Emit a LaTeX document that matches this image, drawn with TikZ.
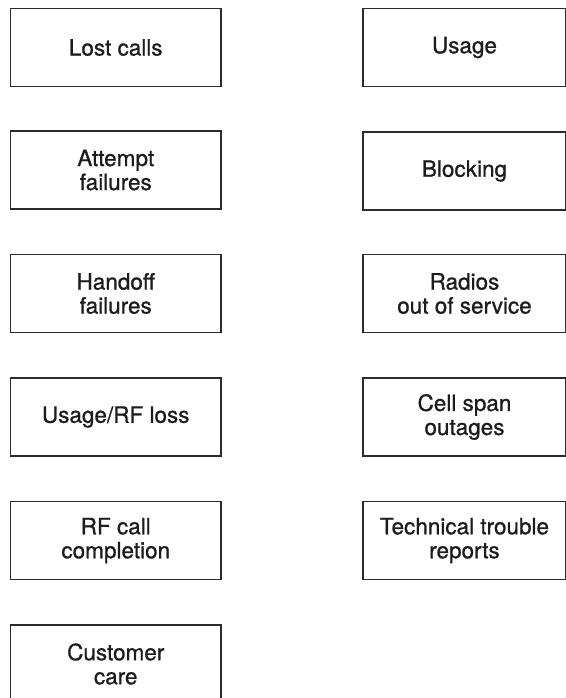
\documentclass[tikz,border=0pt]{standalone}
\usepackage{fontspec}
\setmainfont{TeX Gyre Heros}
% slightly heavier face for the box labels
\newfontface\labelface{TeX Gyre Heros}[FakeBold=0.9]
\definecolor{inkline}{HTML}{2B2B2B}
\definecolor{inktext}{HTML}{1C1C1C}
\begin{document}
\begin{tikzpicture}[x=1pt,y=-1pt,
  metric/.style={draw=inkline, line width=1.7pt, rectangle, inner sep=0pt,
    minimum height=78pt, align=center, text=inktext,
    font=\labelface\fontsize{22.5}{24}\selectfont},
  leftbox/.style={metric, minimum width=210.5pt},
  rightbox/.style={metric, minimum width=203pt}]
\useasboundingbox (0,0) rectangle (565,698);
% left column
\node[leftbox] (lost)     at (115.75, 47.5)  {Lost calls};
\node[leftbox] (attempt)  at (115.75, 170)   {Attempt\\failures};
\node[leftbox] (handoff)  at (115.75, 293.5) {Handoff\\failures};
\node[leftbox] (usagerf)  at (115.75, 417)   {Usage/RF loss};
\node[leftbox] (rfcall)   at (115.75, 540.5) {RF call\\completion};
\node[leftbox] (care)     at (115.75, 664)   {Customer\\care};
% right column
\node[rightbox] (usage)    at (464.5, 47.5)  {Usage};
\node[rightbox] (blocking) at (464.5, 171)   {Blocking};
\node[rightbox] (radios)   at (464.5, 293.5) {Radios\\out of service};
\node[rightbox] (span)     at (464.5, 417)   {Cell span\\outages};
\node[rightbox] (trouble)  at (464.5, 540.5) {Technical trouble\\reports};
\end{tikzpicture}
\end{document}
